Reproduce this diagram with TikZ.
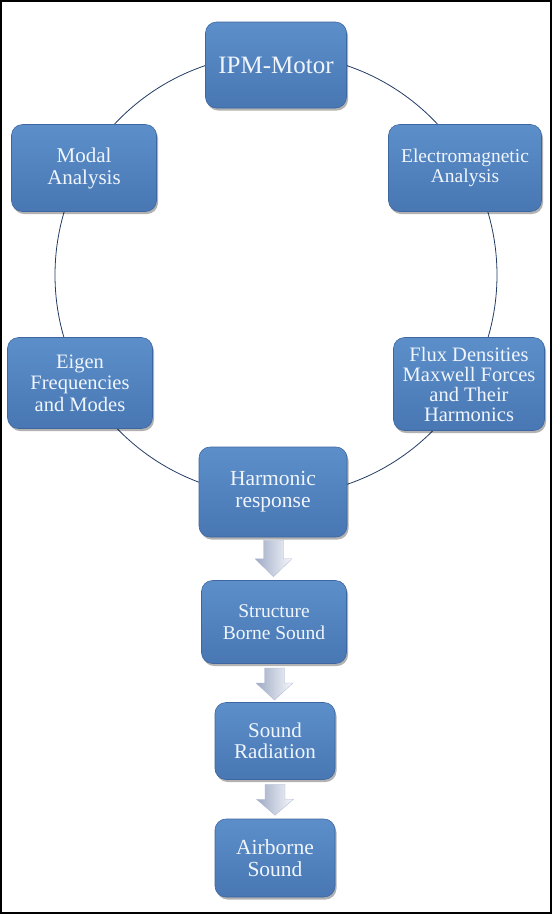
\documentclass[tikz,border=0pt]{standalone}
\usepackage{fontspec}
\setmainfont{Liberation Serif}
\usetikzlibrary{shadows,calc}
\definecolor{boxtop}{RGB}{92,143,202}
\definecolor{boxbot}{RGB}{72,119,179}
\definecolor{boxedge}{RGB}{62,102,160}
\definecolor{txt}{RGB}{240,245,252}
\definecolor{ringcol}{RGB}{35,60,100}
\definecolor{arrdark}{RGB}{158,170,196}
\definecolor{arrlight}{RGB}{246,248,252}
\tikzset{
 box/.style={rectangle, rounded corners=11pt, top color=boxtop, bottom color=boxbot,
   draw=boxedge, line width=0.6pt, text=txt, align=center, inner sep=2pt,
   drop shadow={shadow xshift=1.5pt, shadow yshift=-2.5pt, fill=black, opacity=0.3}},
 ring/.style={draw=ringcol, line width=0.8pt},
 arrfill/.style={left color=arrdark, right color=arrlight, draw=arrdark!85, line width=0.3pt},
 frame/.style={draw=black, line width=2pt}
}
\newcommand\blkarrow[3]{%
 \path[arrfill] ([shift={(-10,-#2)}]#1) -- ([shift={(10,-#2)}]#1) -- ([shift={(10,0)}]#1)
   -- ([shift={(18.5,0)}]#1) -- ([shift={(0,#3)}]#1) -- ([shift={(-18.5,0)}]#1)
   -- ([shift={(-10,0)}]#1) -- cycle;}
\begin{document}
\begin{tikzpicture}[x=1pt,y=-1pt]
\useasboundingbox (0,0) rectangle (552,914);
\draw[frame] (1,1) rectangle (551,913);
\coordinate (ringc) at (276,275);
\draw[ring] (ringc) circle[radius=221];
\node[box, minimum width=141pt, minimum height=86pt, font=\fontsize{25}{27}\selectfont] (ipm) at (276,65) {IPM-Motor};
\node[box, minimum width=145pt, minimum height=87pt, font=\fontsize{21}{22}\selectfont] (modal) at (84,168) {Modal\\Analysis};
\node[box, minimum width=153pt, minimum height=87pt, font=\fontsize{19.5}{20}\selectfont] (em) at (465,168) {Electromagnetic\\Analysis};
\node[box, minimum width=145pt, minimum height=91pt, font=\fontsize{20.5}{21.5}\selectfont] (eigen) at (80,383) {Eigen\\Frequencies\\and Modes};
\node[box, minimum width=151pt, minimum height=93pt, font=\fontsize{20.5}{20}\selectfont] (flux) at (469,384) {Flux Densities\\Maxwell Forces\\and Their\\Harmonics};
\node[box, minimum width=148pt, minimum height=90pt, font=\fontsize{21.5}{22}\selectfont] (harm) at (273,492) {Harmonic\\response};
\node[box, minimum width=145pt, minimum height=83pt, font=\fontsize{19.5}{22}\selectfont] (struct) at (274,622) {Structure\\Borne Sound};
\node[box, minimum width=120pt, minimum height=77pt, font=\fontsize{21}{21.5}\selectfont] (rad) at (275,741) {Sound\\Radiation};
\node[box, minimum width=120pt, minimum height=78pt, font=\fontsize{21.5}{21.5}\selectfont] (air) at (275,858) {Airborne\\Sound};
\path (harm.south) -- (struct.north) coordinate[pos=0.5] (a1);
\path (struct.south) -- (rad.north) coordinate[pos=0.5] (a2);
\path (rad.south) -- (air.north) coordinate[pos=0.5] (a3);
\blkarrow{a1}{18.5}{18}
\blkarrow{a2}{15}{17}
\blkarrow{a3}{15}{16}
\end{tikzpicture}
\end{document}
